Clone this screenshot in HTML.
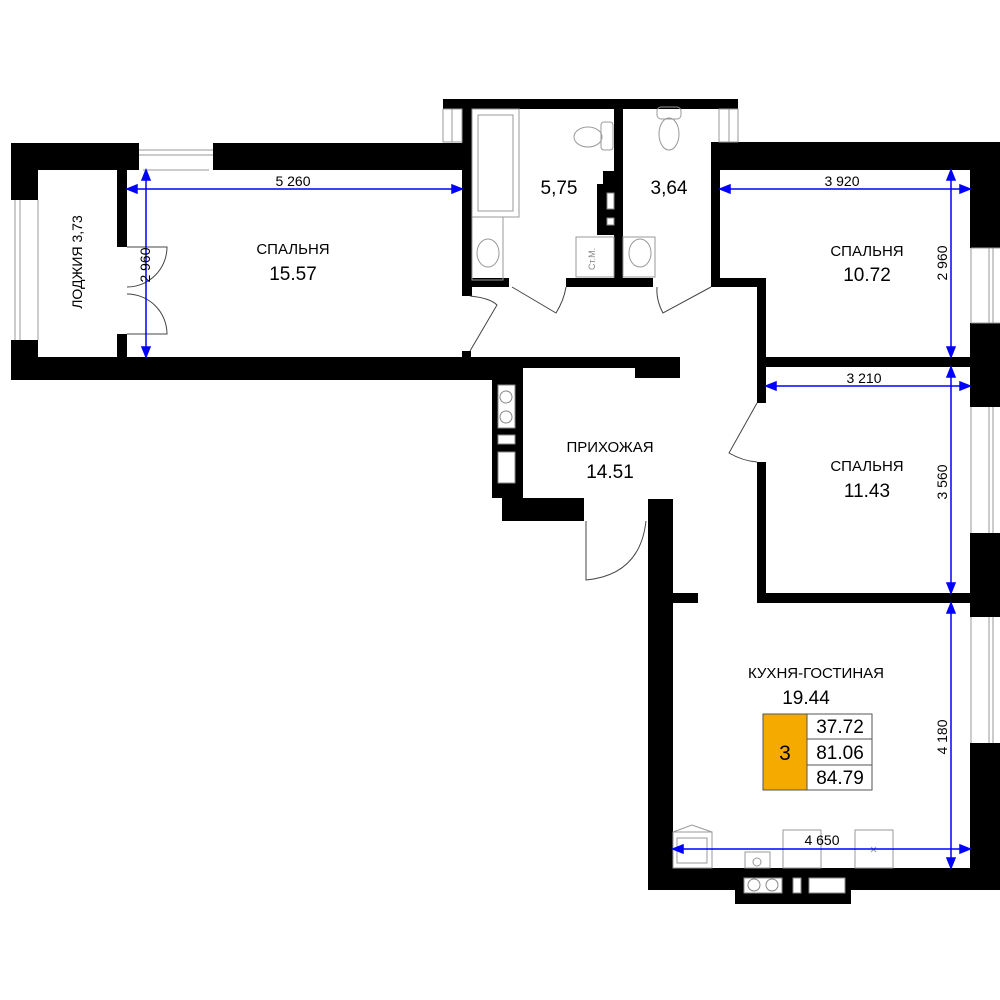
<!DOCTYPE html>
<html><head><meta charset="utf-8"><style>
html,body{margin:0;padding:0;background:#fff;}
svg{display:block;}
text{font-family:"Liberation Sans",sans-serif;fill:#000;}
</style></head><body>
<svg width="1000" height="1000" viewBox="0 0 1000 1000" xmlns="http://www.w3.org/2000/svg">
<rect width="1000" height="1000" fill="#fff"/>
<g fill="#000">
<rect x="11" y="143" width="460" height="27"/>
<rect x="11" y="143" width="27" height="236"/>
<rect x="11" y="357" width="481" height="23"/>
<rect x="117" y="170" width="10" height="77"/>
<rect x="117" y="334" width="10" height="23"/>
<rect x="462" y="99" width="10" height="197"/>
<rect x="462" y="351" width="9" height="7"/>
<rect x="443" y="99" width="295" height="10"/>
<rect x="614" y="99" width="9" height="183"/>
<rect x="597" y="184" width="17" height="51"/>
<rect x="603" y="171" width="11" height="13"/>
<rect x="462" y="278" width="47" height="9"/>
<rect x="566" y="278" width="87" height="9"/>
<rect x="711" y="142" width="9" height="145"/>
<rect x="711" y="278" width="55" height="9"/>
<rect x="711" y="142" width="289" height="28"/>
<rect x="970" y="142" width="30" height="748"/>
<rect x="757" y="278" width="9" height="125"/>
<rect x="757" y="462" width="9" height="141"/>
<rect x="757" y="357" width="213" height="10"/>
<rect x="757" y="593" width="213" height="10"/>
<rect x="480" y="357" width="200" height="11"/>
<rect x="635" y="357" width="45" height="21"/>
<rect x="492" y="357" width="31" height="141"/>
<rect x="502" y="498" width="82" height="23"/>
<rect x="648" y="499" width="25" height="391"/>
<rect x="673" y="593" width="25" height="10"/>
<rect x="648" y="868" width="352" height="22"/>
<rect x="735" y="868" width="116" height="36"/>
</g>
<g fill="#fff" stroke="#888" stroke-width="1">
<rect x="607" y="193" width="7" height="16"/><rect x="607" y="218" width="7" height="7"/>
<rect x="498" y="385" width="17" height="43"/><rect x="498" y="435" width="17" height="9"/><rect x="498" y="452" width="17" height="31"/>
<circle cx="506" cy="397" r="6"/><circle cx="506" cy="417" r="6"/>
<rect x="744" y="878" width="38" height="15"/><circle cx="754" cy="885" r="6"/><circle cx="772" cy="885" r="6"/>
<rect x="793" y="878" width="8" height="15"/><rect x="809" y="878" width="36" height="15"/>
</g>
<g fill="#fff" stroke="#999" stroke-width="1">
<rect x="139" y="143" width="74" height="27" stroke="none"/><line x1="139" y1="150" x2="213" y2="150"/><line x1="139" y1="155" x2="213" y2="155"/><line x1="143" y1="170" x2="209" y2="170"/>
<rect x="11" y="200" width="27" height="140" stroke="none"/><line x1="15" y1="200" x2="15" y2="340"/><line x1="20" y1="200" x2="20" y2="340"/><line x1="38" y1="200" x2="38" y2="340"/>
<rect x="443" y="109" width="19" height="33"/><line x1="452" y1="109" x2="452" y2="142"/>
<rect x="719" y="109" width="19" height="33"/><line x1="729" y1="109" x2="729" y2="142"/>
<rect x="970" y="248" width="30" height="75" stroke="none"/><line x1="971" y1="248" x2="971" y2="323"/><line x1="989" y1="248" x2="989" y2="323"/><line x1="993" y1="248" x2="993" y2="323"/><line x1="971" y1="248" x2="1000" y2="248"/><line x1="971" y1="323" x2="1000" y2="323"/>
<rect x="970" y="407" width="30" height="126" stroke="none"/><line x1="971" y1="407" x2="971" y2="533"/><line x1="989" y1="407" x2="989" y2="533"/><line x1="993" y1="407" x2="993" y2="533"/>
<rect x="970" y="617" width="30" height="126" stroke="none"/><line x1="971" y1="617" x2="971" y2="743"/><line x1="989" y1="617" x2="989" y2="743"/><line x1="993" y1="617" x2="993" y2="743"/>
</g>
<g fill="none" stroke="#999" stroke-width="1">
<rect x="472" y="109" width="47" height="108"/><rect x="478" y="115" width="35" height="96"/>
<rect x="472" y="217" width="31" height="63"/><ellipse cx="488" cy="253" rx="11" ry="14"/>
<ellipse cx="588" cy="137" rx="14" ry="10"/><rect x="601" y="122" width="12" height="28" rx="3"/>
<rect x="576" y="237" width="38" height="40"/>
<rect x="623" y="237" width="32" height="40"/><ellipse cx="640" cy="253" rx="11" ry="14"/>
<ellipse cx="669" cy="134" rx="10" ry="16"/><rect x="657" y="107" width="24" height="12" rx="4"/>
<rect x="673" y="832" width="39" height="36"/><rect x="677" y="838" width="30" height="25"/><path d="M673 832 L692 825 L712 832"/>
<rect x="745" y="852" width="25" height="16"/><circle cx="757" cy="862" r="4"/>
<rect x="783" y="830" width="38" height="38"/>
<rect x="855" y="830" width="38" height="38"/><path d="M871 847 l5 5 M876 847 l-5 5"/>
</g>
<text x="595" y="270" font-size="9" transform="rotate(-90 595 270)" style="fill:#888">Ст.М.</text>
<g fill="none" stroke="#444" stroke-width="1">
<path d="M127 247 L167 247 A40 40 0 0 1 127 287"/>
<path d="M127 334 L167 334 A40 40 0 0 0 127 294"/>
<path d="M470 296 Q490 298 497 305 L470 351"/>
<path d="M512 287 L556 313 Q564 300 566 287"/>
<path d="M711 287 L663 313 Q656 300 657 287"/>
<path d="M757 403 L729 453 Q743 461 757 462"/>
<path d="M586 521 L586 580 Q640 575 646 521"/>
</g>
<g stroke="#0000ff" stroke-width="1.5" fill="#0000ff">
<line x1="127" y1="189" x2="462" y2="189"/><path d="M127 189 l10 -4 v8z M462 189 l-10 -4 v8z"/>
<line x1="146" y1="170" x2="146" y2="357"/><path d="M146 170 l-4 10 h8z M146 357 l-4 -10 h8z"/>
<line x1="720" y1="189" x2="970" y2="189"/><path d="M720 189 l10 -4 v8z M970 189 l-10 -4 v8z"/>
<line x1="951" y1="170" x2="951" y2="357"/><path d="M951 170 l-4 10 h8z M951 357 l-4 -10 h8z"/>
<line x1="766" y1="386" x2="970" y2="386"/><path d="M766 386 l10 -4 v8z M970 386 l-10 -4 v8z"/>
<line x1="951" y1="367" x2="951" y2="593"/><path d="M951 367 l-4 10 h8z M951 593 l-4 -10 h8z"/>
<line x1="673" y1="849" x2="970" y2="849"/><path d="M673 849 l10 -4 v8z M970 849 l-10 -4 v8z"/>
<line x1="951" y1="603" x2="951" y2="868"/><path d="M951 603 l-4 10 h8z M951 868 l-4 -10 h8z"/>
</g>
<g font-size="14" text-anchor="middle">
<text x="293" y="186">5 260</text>
<text x="150" y="265" transform="rotate(-90 150 265)">2 960</text>
<text x="842" y="186">3 920</text>
<text x="947" y="263" transform="rotate(-90 947 263)">2 960</text>
<text x="864" y="383">3 210</text>
<text x="947" y="482" transform="rotate(-90 947 482)">3 560</text>
<text x="822" y="845">4 650</text>
<text x="947" y="737" transform="rotate(-90 947 737)">4 180</text>
<text x="82" y="262" transform="rotate(-90 82 262)">ЛОДЖИЯ 3,73</text>
</g>
<g text-anchor="middle">
<text x="293" y="254" font-size="15">СПАЛЬНЯ</text><text x="293" y="280" font-size="19">15.57</text>
<text x="559" y="194" font-size="19">5,75</text><text x="669" y="194" font-size="19">3,64</text>
<text x="867" y="256" font-size="15">СПАЛЬНЯ</text><text x="867" y="281" font-size="19">10.72</text>
<text x="867" y="471" font-size="15">СПАЛЬНЯ</text><text x="867" y="497" font-size="19">11.43</text>
<text x="610" y="452" font-size="15">ПРИХОЖАЯ</text><text x="610" y="478" font-size="19">14.51</text>
<text x="816" y="678" font-size="15">КУХНЯ-ГОСТИНАЯ</text><text x="806" y="704" font-size="19">19.44</text>
</g>
<rect x="763" y="714" width="44" height="76" fill="#f5aa00" stroke="#555" stroke-width="1"/>
<rect x="807" y="714" width="65" height="25" fill="#fff" stroke="#555"/>
<rect x="807" y="739" width="65" height="26" fill="#fff" stroke="#555"/>
<rect x="807" y="765" width="65" height="25" fill="#fff" stroke="#555"/>
<text x="785" y="760" font-size="21" text-anchor="middle">3</text>
<g font-size="19" text-anchor="middle"><text x="840" y="733">37.72</text><text x="840" y="759">81.06</text><text x="840" y="784">84.79</text></g>
</svg>
</body></html>
